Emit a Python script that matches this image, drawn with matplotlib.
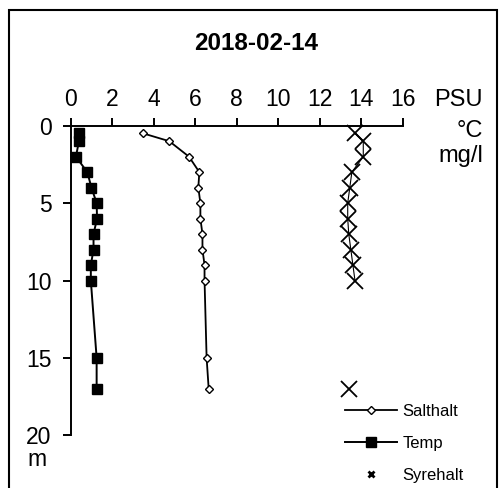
import numpy as np
import matplotlib
matplotlib.use("Agg")
import matplotlib.pyplot as plt
from matplotlib.lines import Line2D
from matplotlib.patches import Rectangle

plt.rcParams['font.family'] = ['Liberation Sans', 'DejaVu Sans']

title = "2018-02-14"
depth = [0.5, 1, 2, 3, 4, 5, 6, 7, 8, 9, 10, 15, 17]
salthalt = [3.5, 4.75, 5.7, 6.2, 6.15, 6.25, 6.25, 6.35, 6.35, 6.45, 6.45, 6.55, 6.65]
temp = [0.4, 0.4, 0.25, 0.8, 1.0, 1.25, 1.27, 1.1, 1.1, 0.97, 0.97, 1.25, 1.25]
syrehalt = [13.7, 14.1, 14.1, 13.55, 13.45, 13.35, 13.35, 13.4, 13.5, 13.6, 13.7, np.nan, 13.4]
xticks = [0, 2, 4, 6, 8, 10, 12, 14, 16]
yticks = [0, 5, 10, 15, 20]
units = ["PSU", "°C", "mg/l"]
depth_unit = "m"
labels = ["Salthalt", "Temp", "Syrehalt"]

W, H = 499, 488
fig = plt.figure(figsize=(W / 100, H / 100), dpi=100)

# outer frame
fig.patches.append(Rectangle((9 / W, -0.1), (497 - 9) / W, 1.1 - 10 / H,
                             transform=fig.transFigure, fill=False,
                             edgecolor='black', linewidth=1.5))

ax = fig.add_axes([70.7 / W, 1 - 435.3 / H, 332 / W, (435.3 - 125.7) / H])
ax.set_xlim(0, 16)
ax.set_ylim(20, 0)
for s in ['right', 'bottom']:
    ax.spines[s].set_visible(False)
for s in ['left', 'top']:
    ax.spines[s].set_linewidth(1.4)

ax.xaxis.tick_top()
ax.set_xticks(xticks)
ax.set_yticks(yticks)
ax.tick_params(axis='both', direction='out', length=5.8, width=1.4,
               labelsize=16.5)
ax.tick_params(axis='x', pad=5)
ax.tick_params(axis='y', pad=8)

ax.plot(temp, depth, color='black', lw=1.4, marker='s', ms=7,
        mfc='black', mec='black', clip_on=False, zorder=3)
ax.plot(salthalt, depth, color='black', lw=1.3, marker='D', ms=4.2,
        mfc='white', mec='black', mew=1.0, clip_on=False, zorder=3)
ax.plot(syrehalt, depth, color='black', lw=0.8, marker='x', ms=11,
        mew=1.3, clip_on=False, zorder=3)

fig.text(256.5 / W, 1 - 44 / H, title, ha='center', va='center',
         fontsize=17.5, fontweight='bold')
fig.text(483 / W, 1 - 100 / H, units[0], ha='right', va='center', fontsize=17)
fig.text(483 / W, 1 - 131 / H, units[1], ha='right', va='center', fontsize=17)
fig.text(483 / W, 1 - 156 / H, units[2], ha='right', va='center', fontsize=17)
fig.text(37 / W, 1 - 466 / H, depth_unit, ha='center', va='baseline', fontsize=16.5)

handles = [
    Line2D([], [], color='black', lw=1.3, marker='D', ms=4.2, mfc='white', mec='black'),
    Line2D([], [], color='black', lw=1.4, marker='s', ms=7, mfc='black'),
    Line2D([], [], color='black', lw=0, marker='x', ms=4.5, mew=2.0),
]
fig.legend(handles, labels, loc='upper left', bbox_to_anchor=(345 / W, 1 - 404 / H),
           frameon=False, fontsize=12, handlelength=3.1, handletextpad=0.35,
           borderpad=0, borderaxespad=0, labelspacing=1.02)

fig.savefig("out.png", dpi=100)
